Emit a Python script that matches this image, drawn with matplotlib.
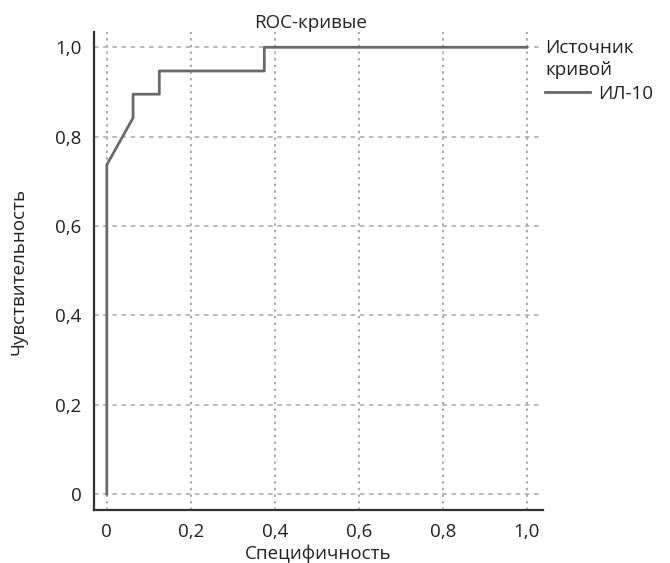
import matplotlib
matplotlib.use("Agg")
import matplotlib.pyplot as plt
from matplotlib.lines import Line2D

plt.rcParams['font.family'] = ['Open Sans', 'DejaVu Sans']

# ROC curve data
fpr = [0.0, 0.0, 0.0625, 0.0625, 0.125, 0.125, 0.375, 0.375, 1.0]
tpr = [0.0, 0.737, 0.842, 0.895, 0.895, 0.947, 0.947, 1.0, 1.0]
tick_vals = [0.0, 0.2, 0.4, 0.6, 0.8, 1.0]
tick_labels = ["0", "0,2", "0,4", "0,6", "0,8", "1,0"]
series_name = "ИЛ-10"

FS = 13.5
TC = '#222222'

fig = plt.figure(figsize=(6.7, 5.63), dpi=100)
ax = fig.add_axes([0.140, 0.094, 0.670, 0.849])

for v in tick_vals:
    ax.axhline(v, color='#a8a8a8', lw=1.1, ls=(0, (3, 3)), zorder=1)
    ax.axvline(v, color='#a8a8a8', lw=1.4, ls=(0, (1.2, 2.2)), zorder=1)

ax.plot(fpr, tpr, color='#6a6a6a', lw=2.0, zorder=3)

ax.set_xlim(-0.031, 1.038)
ax.set_ylim(-0.036, 1.034)
ax.set_xticks(tick_vals)
ax.set_xticklabels(tick_labels)
ax.set_yticks(tick_vals)
ax.set_yticklabels(tick_labels)
ax.tick_params(axis='both', length=0, labelsize=FS, colors=TC)
ax.tick_params(axis='x', pad=9)
ax.tick_params(axis='y', pad=9)

for s in ['top', 'right']:
    ax.spines[s].set_visible(False)
for s in ['left', 'bottom']:
    ax.spines[s].set_color('#333333')
    ax.spines[s].set_linewidth(1.6)

ax.set_title("ROC-кривые", fontsize=FS, color=TC, x=0.483, y=1.0, pad=3)
ax.set_xlabel("Специфичность", fontsize=FS, color=TC, labelpad=3)
ax.set_ylabel("Чувствительность", fontsize=FS, color=TC, labelpad=20)

handle = Line2D([0], [0], color='#6a6a6a', lw=2.0)
leg = ax.legend([handle], [series_name], title="Источник\nкривой",
                loc='upper left', bbox_to_anchor=(0.985, 1.005), frameon=False,
                fontsize=FS, title_fontsize=FS, handlelength=2.4,
                handletextpad=0.4, borderaxespad=0.3, borderpad=0.2,
                labelspacing=0.3)
leg._legend_box.align = "left"
for t in leg.get_texts():
    t.set_color(TC)
leg.get_title().set_color(TC)
leg.get_title().set_linespacing(1.3)

fig.savefig("out.png", dpi=100)
